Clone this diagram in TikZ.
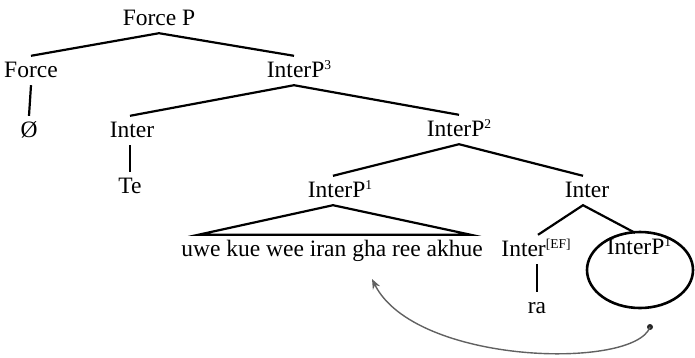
\documentclass[tikz,border=0pt]{standalone}
\usepackage{fontspec}
\setmainfont{Liberation Serif}
\usetikzlibrary{arrows.meta,calc,shapes.geometric}
\newcommand\supr[1]{\raisebox{7.5pt}{\fontsize{13.5}{13.5}\selectfont #1}}
\begin{document}
\begin{tikzpicture}[x=1pt,y=-1pt,
  lbl/.style={anchor=base,inner sep=3pt,text height=18pt,text depth=5pt,font=\fontsize{23.5}{27}\selectfont},
  edge/.style={line width=2.2pt},
  movearrow/.style={draw=black!62,line width=1.4pt,-{Stealth[length=10pt,width=8pt]}}]
\useasboundingbox (0,0) rectangle (695,357);
\node[lbl] (fp) at (159,25) {Force P};
\node[lbl] (force) at (31,77) {Force};
\node[lbl] (ip3) at (299,77) {InterP\supr{3}};
\node[lbl] (null) at (29,137) {Ø};
\node[lbl] (inter1) at (132,137) {Inter};
\node[lbl] (te) at (130,193) {Te};
\node[lbl] (ip2) at (459,136) {InterP\supr{2}};
\node[lbl] (ip1) at (340,197) {InterP\supr{1}};
\node[lbl] (inter2) at (587,197) {Inter};
\node[lbl] (uwe) at (332,256) {uwe kue wee iran gha ree akhue};
\node[lbl] (ief) at (536,256) {Inter\supr{[EF]}};
\node[lbl] (ip1b) at (639,254) {InterP\supr{1}};
\node[lbl] (ra) at (537,313) {ra};
% tree edges
\draw[edge] (force.north) -- (fp.south) -- ([xshift=-5pt]ip3.north);
\draw[edge] (force.south) -- (null.north);
\draw[edge] ([xshift=-2pt]inter1.north) -- ([xshift=-5pt]ip3.south) -- (ip2.north);
\draw[edge] ([xshift=-2pt]inter1.south) -- (te.north);
\draw[edge] ([xshift=-7pt]ip1.north) -- (ip2.south) -- ([xshift=-4pt]inter2.north);
\draw[edge] ([xshift=20pt]uwe.north west) -- ([xshift=-7pt]ip1.south) -- ([xshift=-15pt]uwe.north east) -- cycle;
\draw[edge] ([xshift=2pt]ief.north) -- ([xshift=-4pt]inter2.south) -- ([xshift=-4pt]ip1b.north);
\draw[edge] ([xshift=1pt]ief.south) -- (ra.north);
% circle around moved constituent
\node[draw,ellipse,line width=2.6pt,minimum width=106pt,minimum height=76pt,inner sep=0pt] (circ) at (640,270) {};
\coordinate (dot) at (650,327);
\coordinate (tip) at (372,279);
\fill[black!85] (dot) circle (3pt);
\draw[movearrow] (dot) .. controls (635,370) and (415,365) .. (tip);
\end{tikzpicture}
\end{document}
